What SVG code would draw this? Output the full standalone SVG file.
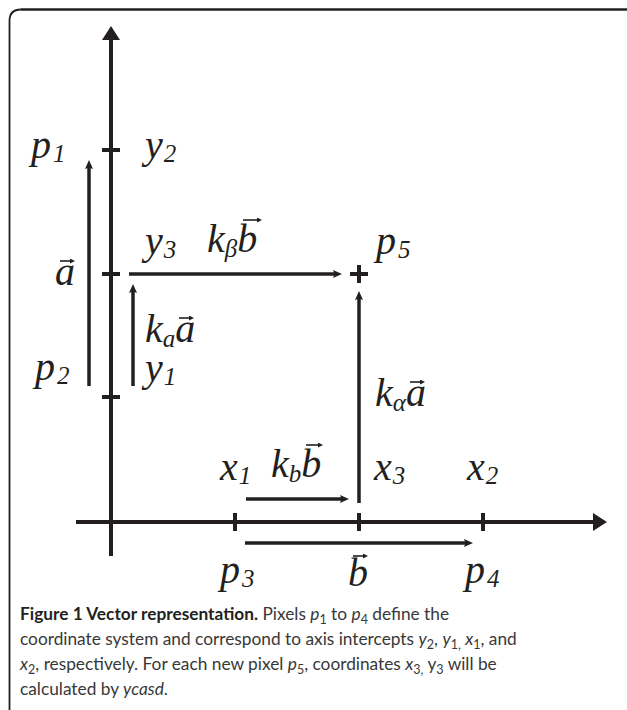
<svg xmlns="http://www.w3.org/2000/svg" width="627" height="710" viewBox="0 0 627 710">
<style>
.ln{stroke:#231f20;fill:none;stroke-linecap:butt}
.ax{stroke-width:4}
.vc{stroke-width:3.5}
.tk{stroke-width:4}
.ov{stroke:#231f20;stroke-width:1.6;fill:none}
.lb{font-family:"Liberation Serif","Times New Roman",serif;font-style:italic;font-size:40px;fill:#231f20}
.sb{font-size:25px}
.cap{font-family:Lato,"Open Sans",sans-serif;font-size:17.3px;fill:#383838}
.capb{font-weight:bold;fill:#231f20}
.ci{font-style:italic}
.cs{font-size:12.5px}
</style>
<defs>
<marker id="hs" viewBox="0 0 9 8" refX="2" refY="4" markerWidth="9" markerHeight="8" markerUnits="userSpaceOnUse" orient="auto">
<path d="M0,0 L9,4 L0,8 L1.5,4 z" fill="#231f20"/>
</marker>
<marker id="hl" viewBox="0 0 14 18" refX="1" refY="9" markerWidth="14" markerHeight="18" markerUnits="userSpaceOnUse" orient="auto">
<path d="M0,0 L14,9 L0,18 z" fill="#231f20"/>
</marker>
<marker id="ht" viewBox="0 0 5 5" refX="1" refY="2.5" markerWidth="5" markerHeight="5" markerUnits="userSpaceOnUse" orient="auto">
<path d="M0,0 L5,2.5 L0,5 z" fill="#231f20"/>
</marker>
</defs>

<g id="frame">
<path d="M9.5 710 V21 Q9.5 9.5 21 9.5" fill="none" stroke="#231f20" stroke-width="1.8"/>
<path d="M21 9.5 H627" fill="none" stroke="#231f20" stroke-width="2.4"/>
</g>

<g id="connectors">
<line id="y-axis" class="ln ax" x1="111" y1="556" x2="111" y2="39" marker-end="url(#hl)"/>
<line id="x-axis" class="ln ax" x1="76" y1="522" x2="594" y2="522" marker-end="url(#hl)"/>
<line id="vec-a" class="ln vc" x1="89" y1="386" x2="89" y2="167" marker-end="url(#hs)"/>
<line id="vec-kaa-left" class="ln vc" x1="133" y1="386" x2="133" y2="291" marker-end="url(#hs)"/>
<line id="vec-kbb-top" class="ln vc" x1="129" y1="274" x2="335" y2="274" marker-end="url(#hs)"/>
<line id="vec-kaa-right" class="ln vc" x1="359" y1="503" x2="359" y2="298" marker-end="url(#hs)"/>
<line id="vec-kbb-bottom" class="ln vc" x1="246" y1="499" x2="342" y2="499" marker-end="url(#hs)"/>
<line id="vec-b" class="ln vc" x1="245" y1="543" x2="466" y2="543" marker-end="url(#hs)"/>
</g>

<g id="ticks">
<line class="ln tk" x1="102" y1="150" x2="120" y2="150"/>
<line class="ln tk" x1="102" y1="274" x2="120" y2="274"/>
<line class="ln tk" x1="102" y1="397" x2="120" y2="397"/>
<line class="ln tk" x1="235" y1="513" x2="235" y2="531"/>
<line class="ln tk" x1="359" y1="513" x2="359" y2="531"/>
<line class="ln tk" x1="483" y1="513" x2="483" y2="531"/>
</g>

<g id="p5-cross">
<line class="ln tk" x1="350" y1="274" x2="368" y2="274"/>
<line class="ln tk" x1="359" y1="265" x2="359" y2="283"/>
</g>

<g id="label-p1"><text class="lb" x="31" y="158">p<tspan class="sb" dx="2" dy="4">1</tspan></text></g>
<g id="label-y2"><text class="lb" x="145" y="158">y<tspan class="sb" dx="1" dy="4">2</tspan></text></g>
<g id="label-y3"><text class="lb" x="145" y="254">y<tspan class="sb" dx="1" dy="4">3</tspan></text></g>
<g id="label-kbetab"><text class="lb" x="207" y="252">k<tspan class="sb" dy="5">β</tspan><tspan dy="-5">b</tspan></text>
<line class="ov" x1="243" y1="220" x2="258" y2="220" marker-end="url(#ht)"/></g>
<g id="label-p5"><text class="lb" x="376" y="254">p<tspan class="sb" dx="2" dy="4">5</tspan></text></g>
<g id="label-a"><text class="lb" x="55" y="285">a</text>
<line class="ov" x1="60" y1="261" x2="71" y2="261" marker-end="url(#ht)"/></g>
<g id="label-kaa-left"><text class="lb" x="145" y="342">k<tspan class="sb" dy="5">a</tspan><tspan dy="-5">a</tspan></text>
<line class="ov" x1="179" y1="318" x2="190" y2="318" marker-end="url(#ht)"/></g>
<g id="label-p2"><text class="lb" x="35" y="380">p<tspan class="sb" dx="2" dy="4">2</tspan></text></g>
<g id="label-y1"><text class="lb" x="145" y="381">y<tspan class="sb" dx="1" dy="4">1</tspan></text></g>
<g id="label-kaa-right"><text class="lb" x="375" y="406">k<tspan class="sb" dy="5">α</tspan><tspan dy="-5">a</tspan></text>
<line class="ov" x1="410" y1="382" x2="421" y2="382" marker-end="url(#ht)"/></g>
<g id="label-x1"><text class="lb" x="220" y="480">x<tspan class="sb" dx="1" dy="4">1</tspan></text></g>
<g id="label-kbb-bottom"><text class="lb" x="271" y="477">k<tspan class="sb" dy="5">b</tspan><tspan dy="-5">b</tspan></text>
<line class="ov" x1="306" y1="445" x2="319" y2="445" marker-end="url(#ht)"/></g>
<g id="label-x3"><text class="lb" x="374" y="480">x<tspan class="sb" dx="1" dy="4">3</tspan></text></g>
<g id="label-x2"><text class="lb" x="467" y="480">x<tspan class="sb" dx="1" dy="4">2</tspan></text></g>
<g id="label-p3"><text class="lb" x="220" y="583">p<tspan class="sb" dx="2" dy="4">3</tspan></text></g>
<g id="label-b"><text class="lb" x="348" y="586">b</text>
<line class="ov" x1="353" y1="556" x2="364" y2="556" marker-end="url(#ht)"/></g>
<g id="label-p4"><text class="lb" x="465" y="583">p<tspan class="sb" dx="2" dy="4">4</tspan></text></g>

<g id="caption">
<text class="cap" x="20" y="620"><tspan class="capb">Figure 1 Vector representation.</tspan> Pixels <tspan class="ci">p</tspan><tspan class="cs" dy="4">1</tspan><tspan dy="-4"> to </tspan><tspan class="ci">p</tspan><tspan class="cs" dy="4">4</tspan><tspan dy="-4"> define the</tspan></text>
<text class="cap" x="20" y="645">coordinate system and correspond to axis intercepts <tspan class="ci">y</tspan><tspan class="cs" dy="4">2</tspan><tspan dy="-4">, </tspan><tspan class="ci">y</tspan><tspan class="cs" dy="4">1,</tspan><tspan dy="-4"> </tspan><tspan class="ci">x</tspan><tspan class="cs" dy="4">1</tspan><tspan dy="-4">, and</tspan></text>
<text class="cap" x="20" y="670"><tspan class="ci">x</tspan><tspan class="cs" dy="4">2</tspan><tspan dy="-4">, respectively. For each new pixel </tspan><tspan class="ci">p</tspan><tspan class="cs" dy="4">5</tspan><tspan dy="-4">, coordinates </tspan><tspan class="ci">x</tspan><tspan class="cs" dy="4">3,</tspan><tspan dy="-4"> y</tspan><tspan class="cs" dy="4">3</tspan><tspan dy="-4"> will be</tspan></text>
<text class="cap" x="20" y="695">calculated by <tspan class="ci">ycasd</tspan>.</text>
</g>
</svg>
